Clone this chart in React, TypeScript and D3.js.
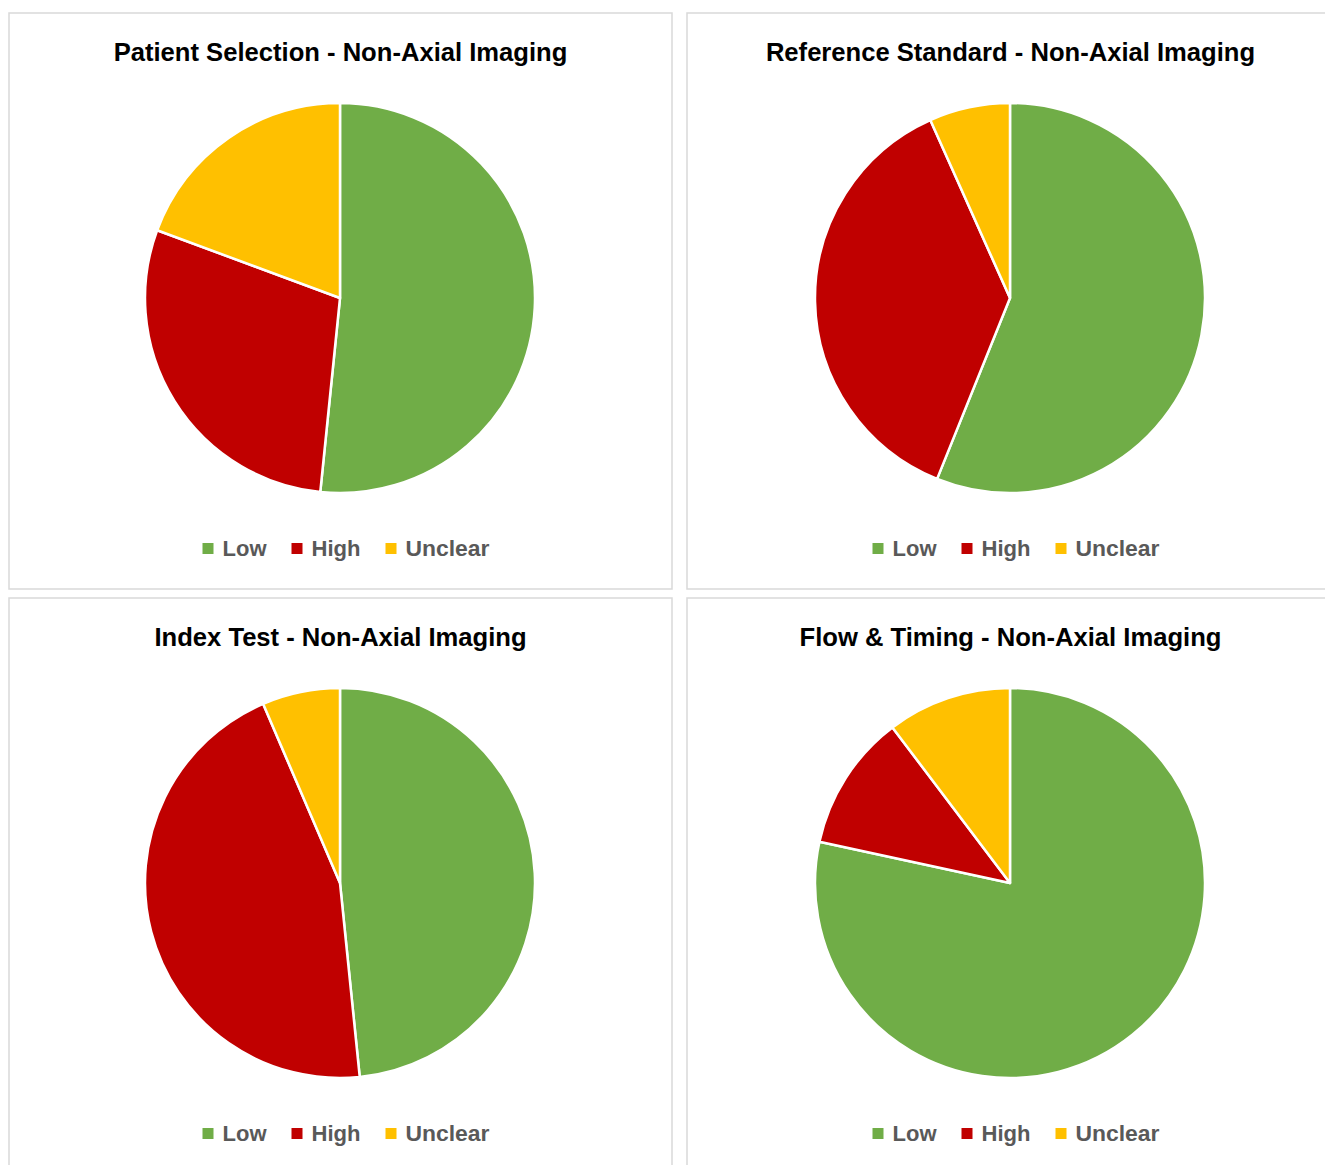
import React from "react";
import * as d3 from "d3";

// Risk-of-bias categories and their colours
const categories = ["Low", "High", "Unclear"];
const categoryColors = ["#70AD47", "#C00000", "#FFC000"];

// Chart titles
const titles = [
  "Patient Selection - Non-Axial Imaging",
  "Reference Standard - Non-Axial Imaging",
  "Index Test - Non-Axial Imaging",
  "Flow & Timing - Non-Axial Imaging",
];

// Share of studies per category (Low, High, Unclear)
const patientSelection = [16, 9, 6];
const referenceStandard = [56.1, 37.2, 6.7];
const indexTest = [15, 14, 2];
const flowTiming = [78.4, 11.3, 10.3];

const series = [patientSelection, referenceStandard, indexTest, flowTiming];

const W = 1325;
const H = 1165;
const RADIUS = 195;
const FONT = "'Liberation Sans Narrow', 'Liberation Sans', Arial, sans-serif";

// grid: two columns, two rows
const colCenter = [340, 1010];
const colPanel = [
  [9, 672],
  [687, 1350],
];
const rowTop = [13, 598];
const PANEL_H = 576;

const pie = d3
  .pie<number>()
  .sort(null)
  .value((d) => d)
  .startAngle(0)
  .endAngle(2 * Math.PI);

const arc = d3.arc<d3.PieArcDatum<number>>().innerRadius(0).outerRadius(RADIUS);

// legend item layout: marker then label
const legendLabelWidths = [44, 49, 84];
const legendGap = 25;
const markerSize = 11;
const markerGap = 9;

function Legend({ cx, y }: { cx: number; y: number }) {
  const items = categories.map((c, i) => ({
    c,
    i,
    w: markerSize + markerGap + legendLabelWidths[i],
  }));
  const total = d3.sum(items, (d) => d.w) + legendGap * (items.length - 1);
  let x = cx - total / 2;
  return (
    <g>
      {items.map((it) => {
        const x0 = x;
        x += it.w + legendGap;
        return (
          <g key={it.c}>
            <rect
              x={x0}
              y={y - 12}
              width={markerSize}
              height={markerSize}
              fill={categoryColors[it.i]}
            />
            <text
              x={x0 + markerSize + markerGap}
              y={y + 1}
              fontFamily={FONT}
              fontWeight="bold"
              fontSize={22.5}
              fill="#595959"
              textLength={legendLabelWidths[it.i]}
              lengthAdjust="spacingAndGlyphs"
            >
              {it.c}
            </text>
          </g>
        );
      })}
    </g>
  );
}

function Panel({ idx }: { idx: number }) {
  const col = idx % 2;
  const row = Math.floor(idx / 2);
  const [px0, px1] = colPanel[col];
  const top = rowTop[row];
  const cx = colCenter[col];
  const cy = top + 285;
  const arcs = pie(series[idx]);
  return (
    <g>
      <rect
        x={px0}
        y={top}
        width={px1 - px0}
        height={PANEL_H}
        fill="#ffffff"
        stroke="#d9d9d9"
        strokeWidth={1.5}
      />
      <text
        x={cx + 0.5}
        y={top + 48}
        textAnchor="middle"
        fontFamily={FONT}
        fontWeight="bold"
        fontSize={25.6}
        fill="#000000"
      >
        {titles[idx]}
      </text>
      <g transform={`translate(${cx},${cy})`}>
        {arcs.map((a, i) => (
          <path
            key={i}
            d={arc(a) || ""}
            fill={categoryColors[i]}
            stroke="#ffffff"
            strokeWidth={2.5}
            strokeLinejoin="round"
          />
        ))}
      </g>
      <Legend cx={cx + 6} y={top + 542} />
    </g>
  );
}

export default function App() {
  return (
    <svg
      width={W}
      height={H}
      viewBox={`0 0 ${W} ${H}`}
      style={{ position: "absolute", left: 0, top: 0, background: "#ffffff" }}
    >
      <rect x={0} y={0} width={W} height={H} fill="#ffffff" />
      {[0, 1, 2, 3].map((i) => (
        <Panel key={i} idx={i} />
      ))}
    </svg>
  );
}
